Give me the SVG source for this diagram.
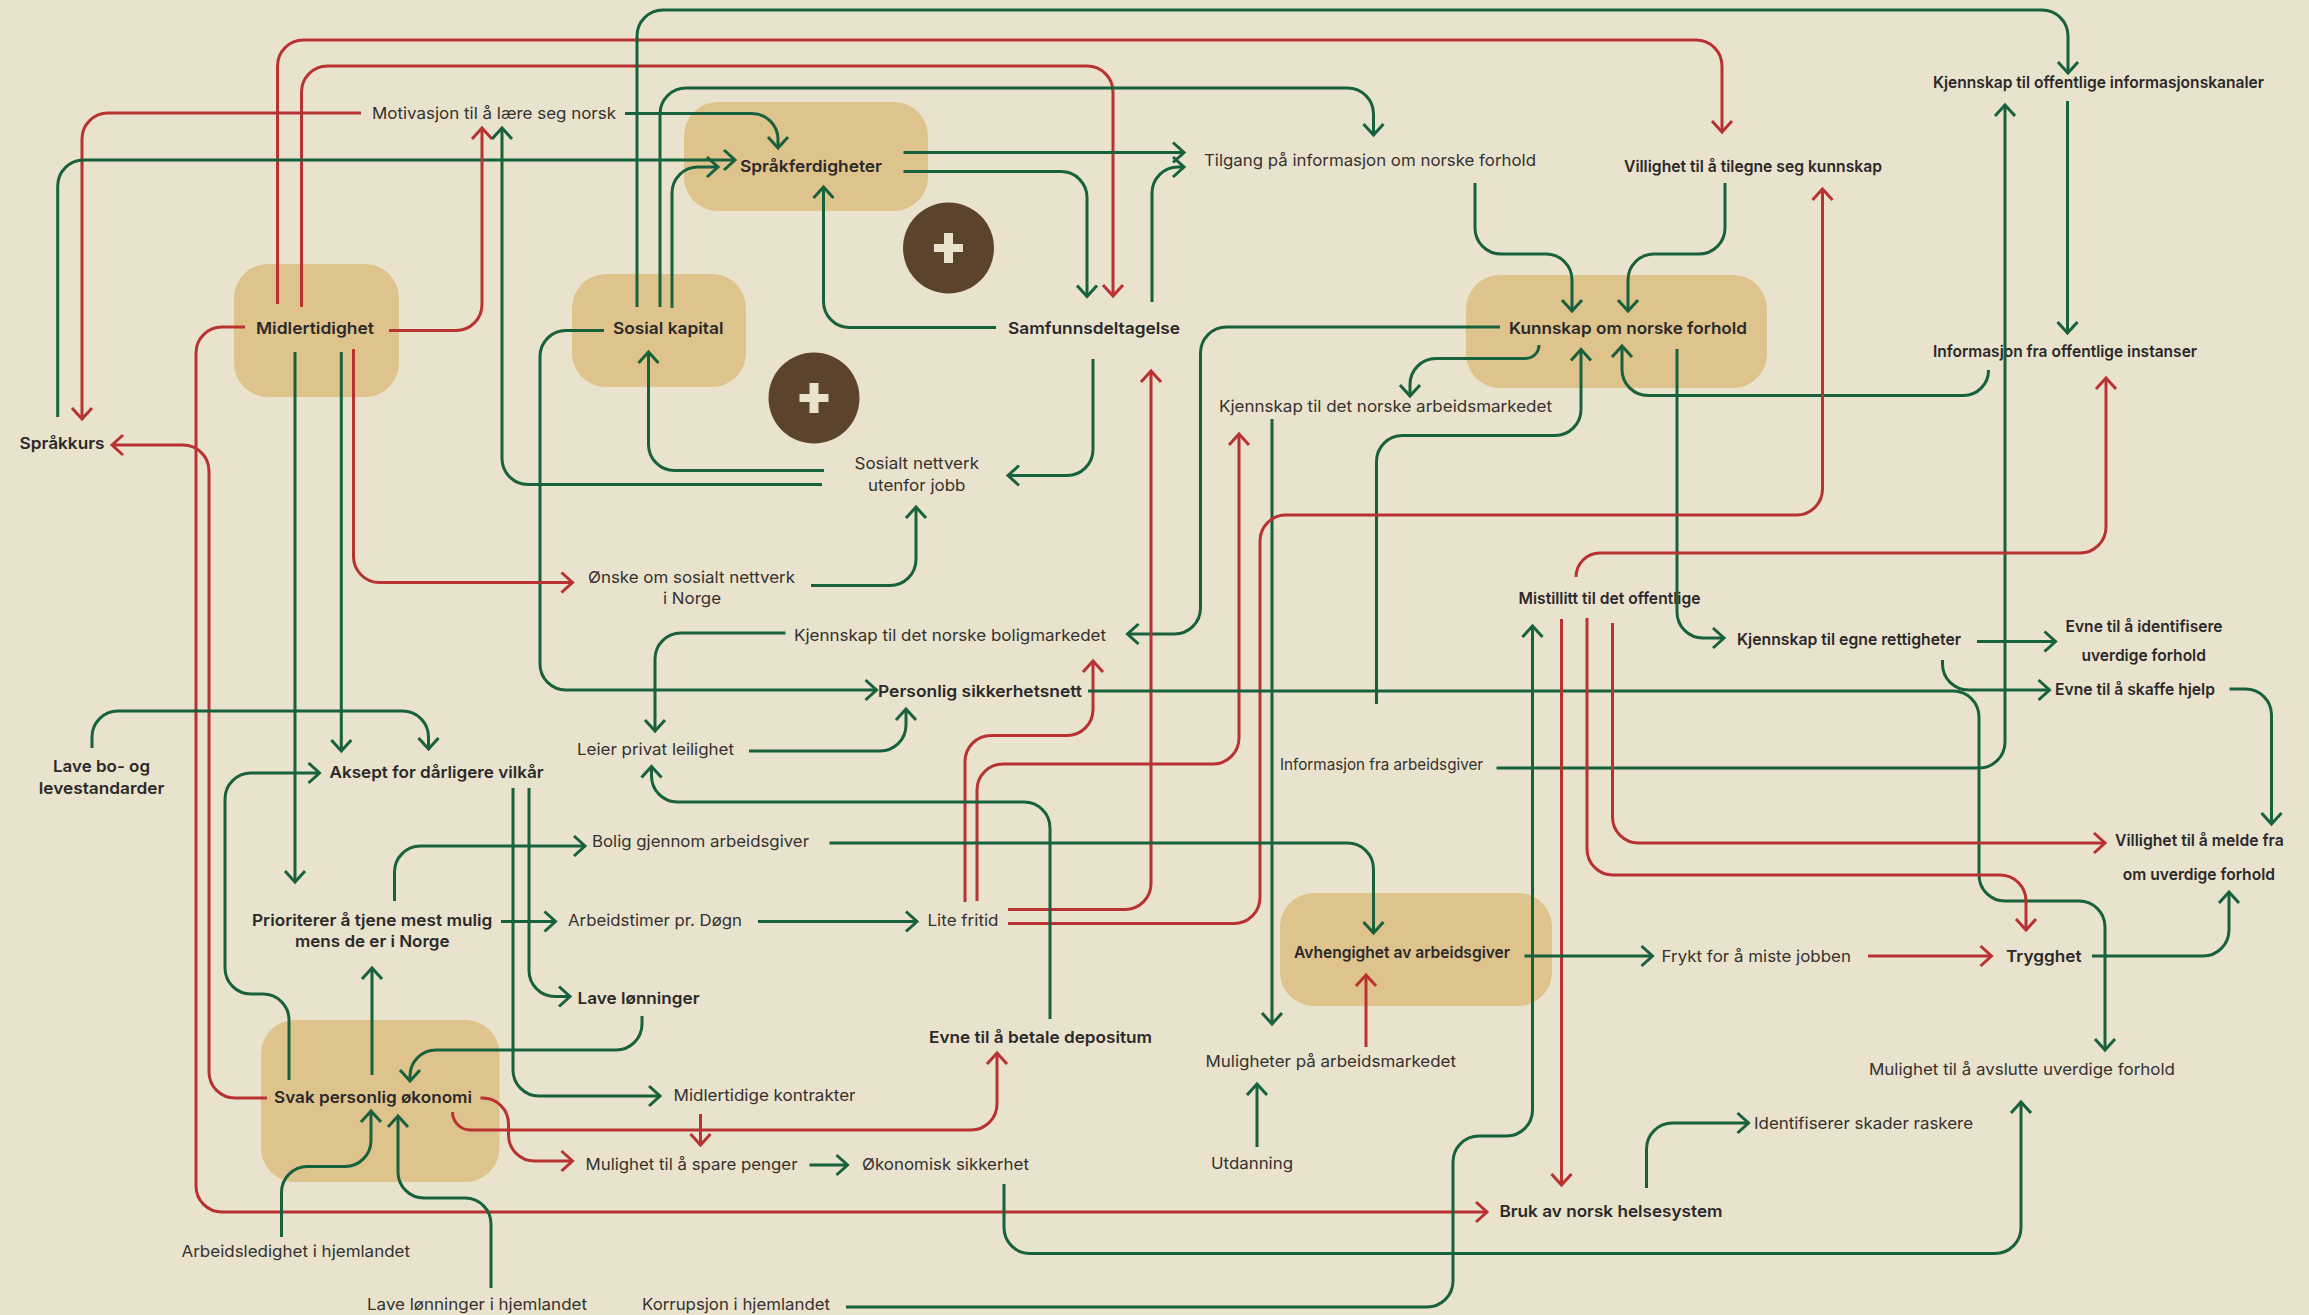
<svg xmlns="http://www.w3.org/2000/svg" width="2309" height="1315" viewBox="0 0 2309 1315">
<style>
text{font-family:Inter,"Noto Sans","Liberation Sans",sans-serif;font-size:16.5px;fill:#35322f}
.b{font-weight:600;fill:#2b2929}
.box{fill:#dfc38c}
.plus{fill:#5c442c}
.pl{fill:#e9e2cd}
path.g,path.r,line.g,line.r{fill:none;stroke-width:3;stroke-linecap:butt}
.g{stroke:#17613c;marker-end:url(#ag)}
.r{stroke:#b83232;marker-end:url(#ar)}
</style>
<defs>
<marker id="ag" markerUnits="userSpaceOnUse" markerWidth="30" markerHeight="30" refX="15" refY="15" orient="auto" overflow="visible"><path d="M4 5L15 15L4 25" fill="none" stroke="#17613c" stroke-width="3"/></marker>
<marker id="ar" markerUnits="userSpaceOnUse" markerWidth="30" markerHeight="30" refX="15" refY="15" orient="auto" overflow="visible"><path d="M4 5L15 15L4 25" fill="none" stroke="#b83232" stroke-width="3"/></marker>
</defs>
<rect width="2309" height="1315" fill="#e9e2cd"/>
<g id="nodes">
<g id="n-midlertidighet"><rect class="box" x="234" y="264" width="165" height="133" rx="34"/><text class="b" x="256" y="334" textLength="118" lengthAdjust="spacingAndGlyphs">Midlertidighet</text></g>
<g id="n-sosial-kapital"><rect class="box" x="572" y="274" width="174" height="113" rx="34"/><text class="b" x="613" y="334" textLength="110.5" lengthAdjust="spacingAndGlyphs">Sosial kapital</text></g>
<g id="n-sprakferdigheter"><rect class="box" x="684" y="102" width="244" height="109" rx="34"/><text class="b" x="740" y="172" textLength="142" lengthAdjust="spacingAndGlyphs">Språkferdigheter</text></g>
<g id="n-kunnskap"><rect class="box" x="1466" y="275" width="301" height="113" rx="34"/><text class="b" x="1509" y="334" textLength="238" lengthAdjust="spacingAndGlyphs">Kunnskap om norske forhold</text></g>
<g id="n-svak"><rect class="box" x="261" y="1020" width="238.5" height="162" rx="34"/><text class="b" x="274" y="1103" textLength="198" lengthAdjust="spacingAndGlyphs">Svak personlig økonomi</text></g>
<g id="n-avhengighet"><rect class="box" x="1280" y="893" width="272" height="113" rx="34"/><text class="b" x="1294" y="958" textLength="216" lengthAdjust="spacingAndGlyphs">Avhengighet av arbeidsgiver</text></g>
<g id="plus-1"><circle class="plus" cx="948.5" cy="248" r="45.5"/><rect class="pl" x="944" y="233" width="9" height="30"/><rect class="pl" x="934" y="244" width="29" height="8"/></g>
<g id="plus-2"><circle class="plus" cx="814" cy="398" r="45.5"/><rect class="pl" x="809.5" y="383" width="9" height="30"/><rect class="pl" x="799.5" y="394" width="29" height="8"/></g>
<g id="n-motivasjon"><text x="372" y="119" textLength="244" lengthAdjust="spacingAndGlyphs">Motivasjon til å lære seg norsk</text></g>
<g id="n-sprakkurs"><text class="b" x="19.5" y="449" textLength="85" lengthAdjust="spacingAndGlyphs">Språkkurs</text></g>
<g id="n-samfunn"><text class="b" x="1008" y="334" textLength="172" lengthAdjust="spacingAndGlyphs">Samfunnsdeltagelse</text></g>
<g id="n-tilgang"><text x="1204" y="166" textLength="332" lengthAdjust="spacingAndGlyphs">Tilgang på informasjon om norske forhold</text></g>
<g id="n-villighet-kunnskap"><text class="b" x="1624" y="172" textLength="258" lengthAdjust="spacingAndGlyphs">Villighet til å tilegne seg kunnskap</text></g>
<g id="n-kanaler"><text class="b" x="1933" y="88" textLength="331" lengthAdjust="spacingAndGlyphs">Kjennskap til offentlige informasjonskanaler</text></g>
<g id="n-info-offentlige"><text class="b" x="1933" y="357" textLength="264" lengthAdjust="spacingAndGlyphs">Informasjon fra offentlige instanser</text></g>
<g id="n-arbeidsmarkedet"><text x="1219" y="412" textLength="333" lengthAdjust="spacingAndGlyphs">Kjennskap til det norske arbeidsmarkedet</text></g>
<g id="n-sosialt-nettverk"><text x="854.5" y="469" textLength="124.5" lengthAdjust="spacingAndGlyphs">Sosialt nettverk</text><text x="868" y="491" textLength="97.5" lengthAdjust="spacingAndGlyphs">utenfor jobb</text></g>
<g id="n-onske"><text x="588" y="583" textLength="207" lengthAdjust="spacingAndGlyphs">Ønske om sosialt nettverk</text><text x="663" y="604" textLength="58" lengthAdjust="spacingAndGlyphs">i Norge</text></g>
<g id="n-boligmarkedet"><text x="794" y="641" textLength="312" lengthAdjust="spacingAndGlyphs">Kjennskap til det norske boligmarkedet</text></g>
<g id="n-sikkerhetsnett"><text class="b" x="878" y="697" textLength="204" lengthAdjust="spacingAndGlyphs">Personlig sikkerhetsnett</text></g>
<g id="n-leier"><text x="577" y="755" textLength="157" lengthAdjust="spacingAndGlyphs">Leier privat leilighet</text></g>
<g id="n-aksept"><text class="b" x="329.5" y="778" textLength="214" lengthAdjust="spacingAndGlyphs">Aksept for dårligere vilkår</text></g>
<g id="n-lave-bo"><text class="b" x="53" y="772" textLength="97" lengthAdjust="spacingAndGlyphs">Lave bo- og</text><text class="b" x="38.8" y="794" textLength="125.5" lengthAdjust="spacingAndGlyphs">levestandarder</text></g>
<g id="n-bolig"><text x="592" y="847" textLength="217" lengthAdjust="spacingAndGlyphs">Bolig gjennom arbeidsgiver</text></g>
<g id="n-prioriterer"><text class="b" x="252" y="926" textLength="240.3" lengthAdjust="spacingAndGlyphs">Prioriterer å tjene mest mulig</text><text class="b" x="295" y="947" textLength="154.5" lengthAdjust="spacingAndGlyphs">mens de er i Norge</text></g>
<g id="n-arbeidstimer"><text x="568" y="926" textLength="174" lengthAdjust="spacingAndGlyphs">Arbeidstimer pr. Døgn</text></g>
<g id="n-lite-fritid"><text x="927.5" y="926" textLength="71" lengthAdjust="spacingAndGlyphs">Lite fritid</text></g>
<g id="n-lave-lonninger"><text class="b" x="577.5" y="1004" textLength="122" lengthAdjust="spacingAndGlyphs">Lave lønninger</text></g>
<g id="n-kontrakter"><text x="673.5" y="1101" textLength="182" lengthAdjust="spacingAndGlyphs">Midlertidige kontrakter</text></g>
<g id="n-spare"><text x="585.5" y="1170" textLength="212" lengthAdjust="spacingAndGlyphs">Mulighet til å spare penger</text></g>
<g id="n-okonomisk"><text x="862" y="1170" textLength="167" lengthAdjust="spacingAndGlyphs">Økonomisk sikkerhet</text></g>
<g id="n-arbeidsledighet"><text x="181.5" y="1257" textLength="228.5" lengthAdjust="spacingAndGlyphs">Arbeidsledighet i hjemlandet</text></g>
<g id="n-lonninger-hjem"><text x="367" y="1310" textLength="220" lengthAdjust="spacingAndGlyphs">Lave lønninger i hjemlandet</text></g>
<g id="n-korrupsjon"><text x="642" y="1310" textLength="188" lengthAdjust="spacingAndGlyphs">Korrupsjon i hjemlandet</text></g>
<g id="n-depositum"><text class="b" x="929" y="1043" textLength="223" lengthAdjust="spacingAndGlyphs">Evne til å betale depositum</text></g>
<g id="n-muligheter"><text x="1205.5" y="1067" textLength="250.5" lengthAdjust="spacingAndGlyphs">Muligheter på arbeidsmarkedet</text></g>
<g id="n-utdanning"><text x="1211" y="1169" textLength="82" lengthAdjust="spacingAndGlyphs">Utdanning</text></g>
<g id="n-info-arbeidsgiver"><text x="1280" y="770" textLength="203" lengthAdjust="spacingAndGlyphs">Informasjon fra arbeidsgiver</text></g>
<g id="n-mistillitt"><text class="b" x="1518.5" y="604" textLength="182" lengthAdjust="spacingAndGlyphs">Mistillitt til det offentlige</text></g>
<g id="n-rettigheter"><text class="b" x="1737" y="645" textLength="224" lengthAdjust="spacingAndGlyphs">Kjennskap til egne rettigheter</text></g>
<g id="n-identifisere"><text class="b" x="2065.5" y="632" textLength="157" lengthAdjust="spacingAndGlyphs">Evne til å identifisere</text><text class="b" x="2081.5" y="661" textLength="124.4" lengthAdjust="spacingAndGlyphs">uverdige forhold</text></g>
<g id="n-skaffe"><text class="b" x="2055" y="695" textLength="160" lengthAdjust="spacingAndGlyphs">Evne til å skaffe hjelp</text></g>
<g id="n-melde"><text class="b" x="2115" y="846" textLength="168.7" lengthAdjust="spacingAndGlyphs">Villighet til å melde fra</text><text class="b" x="2122.8" y="880" textLength="152.2" lengthAdjust="spacingAndGlyphs">om uverdige forhold</text></g>
<g id="n-frykt"><text x="1661.5" y="962" textLength="189.5" lengthAdjust="spacingAndGlyphs">Frykt for å miste jobben</text></g>
<g id="n-trygghet"><text class="b" x="2006" y="962" textLength="75.5" lengthAdjust="spacingAndGlyphs">Trygghet</text></g>
<g id="n-avslutte"><text x="1869" y="1075" textLength="306" lengthAdjust="spacingAndGlyphs">Mulighet til å avslutte uverdige forhold</text></g>
<g id="n-skader"><text x="1754" y="1129" textLength="219" lengthAdjust="spacingAndGlyphs">Identifiserer skader raskere</text></g>
<g id="n-helsesystem"><text class="b" x="1499.5" y="1217" textLength="223" lengthAdjust="spacingAndGlyphs">Bruk av norsk helsesystem</text></g>
</g>
<g id="connectors">
<path class="r" d="M277.5 304V66A26 26 0 0 1 303.5 40H1696A26 26 0 0 1 1722 66V132"/>
<path class="r" d="M301.5 307V92A26 26 0 0 1 327.5 66H1087A26 26 0 0 1 1113 92V296"/>
<path class="r" d="M361 113H108A26 26 0 0 0 82 139V419"/>
<path class="g" d="M625 113.5H752A26 26 0 0 1 778 139.5V148"/>
<path class="g" d="M57.7 417V186A26 26 0 0 1 83.7 160H735"/>
<path class="g" d="M672 308V193A26 26 0 0 1 698 167H718"/>
<path class="g" d="M637 307V36A26 26 0 0 1 663 10H2042A26 26 0 0 1 2068 36V73"/>
<path class="g" d="M660 307V114A26 26 0 0 1 686 88H1347.5A26 26 0 0 1 1373.5 114V135"/>
<path class="g" d="M604 330.5H566A26 26 0 0 0 540 356.5V664A26 26 0 0 0 566 690H876.5"/>
<path class="r" d="M389 330.5H456A26 26 0 0 0 482 304.5V128"/>
<path class="g" d="M822 484.5H528A26 26 0 0 1 502 458.5V128"/>
<path class="g" d="M824 470.5H674.5A26 26 0 0 1 648.5 444.5V352"/>
<path class="r" d="M245 327H222A26 26 0 0 0 196 353V1186A26 26 0 0 0 222 1212H1487"/>
<path class="r" d="M267 1098H235A26 26 0 0 1 209 1072V471A26 26 0 0 0 183 445H112"/>
<path class="g" d="M295 352V882"/>
<path class="g" d="M341.3 352V751"/>
<path class="r" d="M353.5 349V556A26 26 0 0 0 379.5 582.5H572.5"/>
<path class="g" d="M811 585.5H890A26 26 0 0 0 916 559.5V507"/>
<path class="g" d="M996 327.5H849.5A26 26 0 0 1 823.5 301.5V187"/>
<path class="g" d="M903.5 152.5H1184"/>
<path class="g" d="M903.5 171.5H1061A26 26 0 0 1 1087 197.5V296.5"/>
<path class="g" d="M1152 302V193A26 26 0 0 1 1178 167H1184"/>
<path class="g" d="M1093 359V449.5A26 26 0 0 1 1067 475.5H1008"/>
<path class="g" d="M1500 327H1226.5A26 26 0 0 0 1200.5 353V608A26 26 0 0 1 1174.5 634H1127.5"/>
<path class="g" d="M1539 345A13.5 13.5 0 0 1 1525.5 358.5H1436A26 26 0 0 0 1410 384.5V396"/>
<path class="g" d="M1475 183V228A26 26 0 0 0 1501 254H1546A26 26 0 0 1 1572 280V311"/>
<path class="g" d="M1725 183V228A26 26 0 0 1 1699 254H1654A26 26 0 0 0 1628 280V311"/>
<path class="g" d="M1988.5 370A25 25 0 0 1 1963 395.5H1648A26 26 0 0 1 1622 369.5V346"/>
<path class="g" d="M1376.5 704V461.5A26 26 0 0 1 1402.5 435.5H1555A26 26 0 0 0 1581 409.5V349.5"/>
<path class="g" d="M1272 419V1024"/>
<path class="g" d="M1677 349V612A26 26 0 0 0 1703 638H1724"/>
<path class="g" d="M2067.5 101V333"/>
<path class="g" d="M1496.5 768H1979A26 26 0 0 0 2005 742V105"/>
<path class="r" d="M1576 577A24 24 0 0 1 1600 553H2080A26 26 0 0 0 2106 527V378"/>
<path class="r" d="M1008 923.5H1234A26 26 0 0 0 1260 897.5V541A26 26 0 0 1 1286 515H1796.5A26 26 0 0 0 1822.5 489V189"/>
<path class="r" d="M1008 909.5H1125A26 26 0 0 0 1151 883.5V371"/>
<path class="r" d="M965 902V761.5A26 26 0 0 1 991 735.5H1067A26 26 0 0 0 1093 709.5V661"/>
<path class="r" d="M977 901V790A26 26 0 0 1 1003 764H1213A26 26 0 0 0 1239 738V434"/>
<path class="g" d="M1088 691H1953A26 26 0 0 1 1979 717V875A26 26 0 0 0 2005 901H2079A26 26 0 0 1 2105 927V1050"/>
<path class="r" d="M1587 618V849A26 26 0 0 0 1613 875H2000A26 26 0 0 1 2026 901V930"/>
<path class="r" d="M1612.5 623V817A26 26 0 0 0 1638.5 843H2105"/>
<path class="r" d="M1561.5 619V1185"/>
<path class="g" d="M846 1307H1427A26 26 0 0 0 1453 1281V1162A26 26 0 0 1 1479 1136H1506.5A26 26 0 0 0 1532.5 1110V626"/>
<path class="g" d="M1977 641.5H2055.5"/>
<path class="g" d="M1942.5 660V664A26 26 0 0 0 1968.5 690H2049.5"/>
<path class="g" d="M2229.5 689H2245.5A26 26 0 0 1 2271.5 715V824"/>
<path class="g" d="M2092 956H2203A26 26 0 0 0 2229 930V892"/>
<path class="r" d="M1868 956H1991.5"/>
<path class="g" d="M1524.5 956H1652.5"/>
<path class="r" d="M1366 1047V975"/>
<path class="g" d="M1257 1147V1084"/>
<path class="g" d="M829.5 843H1347.5A26 26 0 0 1 1373.5 869V933"/>
<path class="g" d="M1050 1019V828A26 26 0 0 0 1024 802H677.5A26 26 0 0 1 651.5 776V766.5"/>
<path class="g" d="M749 751H880A26 26 0 0 0 906 725V709"/>
<path class="g" d="M785.5 633H681A26 26 0 0 0 655 659V731"/>
<path class="g" d="M92 748V737A26 26 0 0 1 118 711H402.5A26 26 0 0 1 428.5 737V749"/>
<path class="g" d="M289 1080V1020A26 26 0 0 0 263 994H251A26 26 0 0 1 225 968V799A26 26 0 0 1 251 773H319.5"/>
<path class="g" d="M372 1075V968"/>
<path class="g" d="M394.5 901V872A26 26 0 0 1 420.5 846H585"/>
<path class="g" d="M501 921.5H555.5"/>
<path class="g" d="M758 921.5H917"/>
<path class="g" d="M529 788V970.5A26 26 0 0 0 555 996.5H570"/>
<path class="g" d="M513 788V1070A26 26 0 0 0 539 1096H660"/>
<path class="g" d="M642 1016V1024A26 26 0 0 1 616 1050H436A26 26 0 0 0 410 1076V1081"/>
<path class="g" d="M281.5 1237V1192.5A26 26 0 0 1 307.5 1166.5H345A26 26 0 0 0 371 1140.5V1111"/>
<path class="g" d="M491 1288V1224A26 26 0 0 0 465 1198H424A26 26 0 0 1 398 1172V1116"/>
<path class="r" d="M480.5 1098H482.5A26 26 0 0 1 508.5 1124V1135A26 26 0 0 0 534.5 1161H572.5"/>
<path class="r" d="M452.5 1112A18 18 0 0 0 470.5 1130H971A26 26 0 0 0 997 1104V1053"/>
<path class="r" d="M700.5 1114V1145"/>
<path class="g" d="M809.5 1165H847.5"/>
<path class="g" d="M1004 1184V1227.5A26 26 0 0 0 1030 1253.5H1995A26 26 0 0 0 2021 1227.5V1102"/>
<path class="g" d="M1646.5 1188V1149A26 26 0 0 1 1672.5 1123H1748.5"/>
</g>
</svg>
